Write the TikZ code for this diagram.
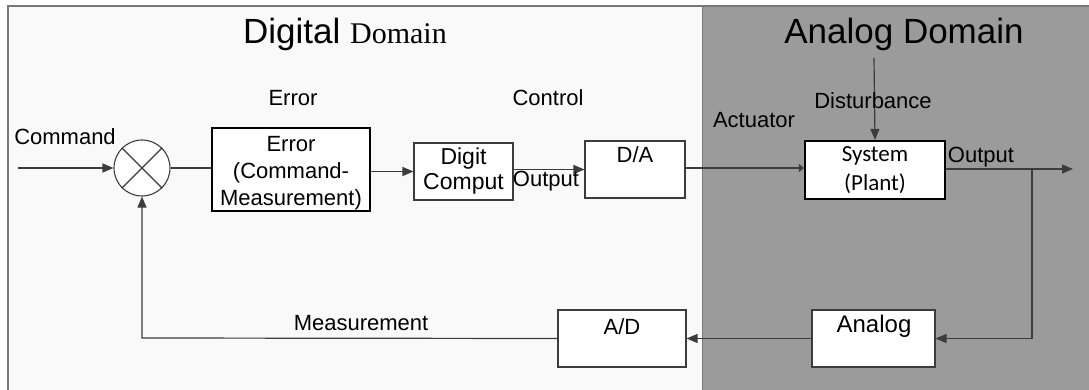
\documentclass[tikz,border=0pt]{standalone}
\usepackage{fontspec}
\setmainfont{Liberation Sans}
\newfontfamily\serifdom{Liberation Serif}
\newfontfamily\calib{Carlito}
\usetikzlibrary{arrows.meta,calc}
\definecolor{analogbg}{RGB}{155,155,155}
\definecolor{digitalbg}{RGB}{249,249,249}
\definecolor{framec}{RGB}{120,120,120}
\definecolor{linec}{RGB}{60,60,60}
\tikzset{
  lbl/.style={font=\fontsize{22}{26}\selectfont, inner sep=0pt},
  thinbox/.style={draw=linec, line width=1.1pt, fill=white, inner sep=0pt, align=center, font=\fontsize{22}{26}\selectfont},
  thickbox/.style={draw=black, line width=2.4pt, fill=white, inner sep=0pt, align=center},
  conn/.style={draw=linec, line width=1.2pt},
  arr/.style={conn, -{Triangle[length=11pt,width=9pt]}},
  smallarr/.style={conn, -{Triangle[length=5pt,width=8pt]}},
  title/.style={font=\fontsize{35}{40}\selectfont, inner sep=0pt, anchor=base}
}
\begin{document}
\begin{tikzpicture}[x=1pt,y=-1pt]
\useasboundingbox (0,0) rectangle (1089,390);
% backgrounds
\fill[white] (0,0) rectangle (1089,390);
\fill[digitalbg] (8,6) rectangle (702,390);
\fill[analogbg] (702,6) rectangle (1089,390);
\draw[framec, line width=1.6pt] (8,390) -- (8,6) -- (1089,6);
\draw[framec, line width=1pt] (702,6) -- (702,390);
% titles
\node[title] (tdig) at (345,44) {Digital {\serifdom\fontsize{30}{34}\selectfont Domain}};
\node[title] (tana) at (904,44) {Analog Domain};
% blocks
\node[draw=linec, line width=1.1pt, fill=white, circle, minimum size=56pt, inner sep=0pt] (sum) at (142,168) {};
\draw[linec, line width=1.1pt] (sum.north east) -- (sum.south west) (sum.north west) -- (sum.south east);
\node[thickbox, minimum width=158pt, minimum height=83pt] (err) at (291,169.5) {};
\node[lbl, align=center, font=\fontsize{22}{27}\selectfont] (errtxt) at (291,173) {Error\\(Command-\\Measurement)};
\node[thinbox, minimum width=99pt, minimum height=57pt, font=\fontsize{23}{25}\selectfont] (dig) at (463.5,171.5) {Digit\\Comput};
\node[thinbox, minimum width=100pt, minimum height=57pt] (da) at (635,169.5) {};
\node[lbl] (datxt) at (635,155) {D/A};
\node[thickbox, line width=2.2pt, minimum width=140pt, minimum height=58pt, font=\calib\fontsize{23}{29}\selectfont] (sys) at (875,170) {System\\(Plant)};
\node[thinbox, minimum width=123pt, minimum height=57pt] (an) at (873.5,338.5) {};
\node[lbl, font=\fontsize{24}{28}\selectfont] (antxt) at (874,326) {Analog};
\node[thinbox, minimum width=128pt, minimum height=57pt] (ad) at (622,338.5) {};
\node[lbl] (adtxt) at (622,327) {A/D};
% coordinates
\coordinate (cmd) at (18,168);
\coordinate (dist) at (874,58);
\coordinate (out) at (1073,169);
\coordinate (br) at (1032,169);
\coordinate (fbl) at (142,338);
% connectors
\draw[arr] (cmd) -- (sum.west);
\draw[conn] (sum.east) -- (sum.east -| err.west);
\draw[arr] (err.east |- dig.west) -- (dig.west);
\draw[arr] (dig.east |- da.west) -- (da.west);
\draw[smallarr] (da.east |- 0,168) -- (sys.west |- 0,168);
\draw[arr] (dist) -- (sys.north);
\draw[arr] (sys.east |- out) -- (out);
\draw[arr] (br) -- (br |- an.east) -- (an.east);
\draw[arr] (an.west) -- (ad.east);
\draw[arr] (ad.west) -- (fbl) -- (sum.south);
% labels
\node[lbl] (lcmd) at (65,137) {Command};
\node[lbl] (lerr) at (293,98) {Error};
\node[lbl] (lctl) at (548,98) {Control};
\node[lbl] (lout1) at (546,181) {Output};
\node[lbl] (lact) at (754,120) {Actuator};
\node[lbl] (ldist) at (873,101) {Disturbance};
\node[lbl] (lout2) at (981,157) {Output};
\node[lbl] (lmeas) at (361,323) {Measurement};
\end{tikzpicture}
\end{document}
